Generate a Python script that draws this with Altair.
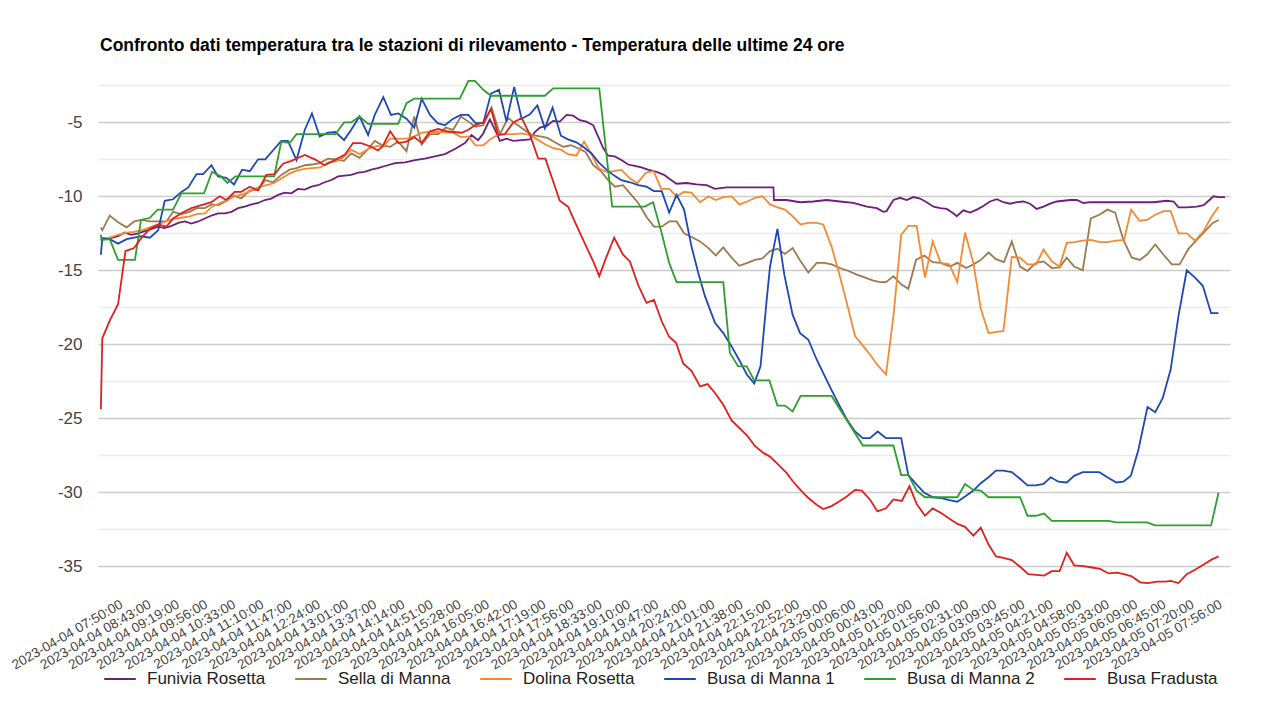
import altair as alt
import pandas as pd

TITLE = "Confronto dati temperatura tra le stazioni di rilevamento - Temperatura delle ultime 24 ore"

labels = [
    "2023-04-04 07:50:00", "2023-04-04 08:43:00", "2023-04-04 09:19:00", "2023-04-04 09:56:00",
    "2023-04-04 10:33:00", "2023-04-04 11:10:00", "2023-04-04 11:47:00", "2023-04-04 12:24:00",
    "2023-04-04 13:01:00", "2023-04-04 13:37:00", "2023-04-04 14:14:00", "2023-04-04 14:51:00",
    "2023-04-04 15:28:00", "2023-04-04 16:05:00", "2023-04-04 16:42:00", "2023-04-04 17:19:00",
    "2023-04-04 17:56:00", "2023-04-04 18:33:00", "2023-04-04 19:10:00", "2023-04-04 19:47:00",
    "2023-04-04 20:24:00", "2023-04-04 21:01:00", "2023-04-04 21:38:00", "2023-04-04 22:15:00",
    "2023-04-04 22:52:00", "2023-04-04 23:29:00", "2023-04-05 00:06:00", "2023-04-05 00:43:00",
    "2023-04-05 01:20:00", "2023-04-05 01:56:00", "2023-04-05 02:31:00", "2023-04-05 03:09:00",
    "2023-04-05 03:45:00", "2023-04-05 04:21:00", "2023-04-05 04:58:00", "2023-04-05 05:33:00",
    "2023-04-05 06:09:00", "2023-04-05 06:45:00", "2023-04-05 07:20:00", "2023-04-05 07:56:00",
]

series_names = ["Funivia Rosetta", "Sella di Manna", "Dolina Rosetta",
                "Busa di Manna 1", "Busa di Manna 2", "Busa Fradusta"]
series_colors = ["#6d1f7a", "#9c7a4f", "#f58a33", "#1f47b8", "#2e9e2e", "#e0201f"]

# (position along the category axis, temperature °C)
funivia_rosetta = [
    (0, -12.85), (0.31, -12.85), (0.6, -12.7), (0.84, -12.45), (1.07, -12.6), (1.3, -12.5),
    (1.53, -12.35), (1.77, -12.2), (2.0, -12.05), (2.23, -12.15), (2.47, -12.0), (2.7, -11.8),
    (2.93, -11.7), (3.16, -11.85), (3.4, -11.7), (3.63, -11.5), (3.86, -11.3), (4.09, -11.15),
    (4.33, -11.15), (4.56, -11.05), (4.79, -10.8), (5.02, -10.7), (5.26, -10.55), (5.49, -10.45),
    (5.72, -10.25), (5.95, -10.15), (6.19, -9.9), (6.42, -9.75), (6.65, -9.8), (6.88, -9.5),
    (7.12, -9.55), (7.35, -9.35), (7.58, -9.25), (7.81, -9.05), (8.05, -8.9), (8.28, -8.65),
    (8.51, -8.6), (8.74, -8.55), (8.98, -8.4), (9.21, -8.35), (9.44, -8.2), (9.67, -8.1),
    (9.92, -7.95), (10.27, -7.75), (10.62, -7.7), (10.97, -7.55), (11.31, -7.45), (11.66, -7.3),
    (12.01, -7.15), (12.36, -6.8), (12.71, -6.4), (12.94, -5.85), (13.17, -6.2), (13.35, -5.75),
    (13.58, -4.8), (13.76, -5.5), (13.93, -6.25), (14.16, -6.1), (14.4, -6.25), (14.69, -6.2),
    (14.98, -6.15), (15.15, -5.65), (15.33, -5.35), (15.56, -5.25), (15.79, -4.9), (16.02, -4.95),
    (16.26, -4.5), (16.49, -4.55), (16.72, -4.85), (16.95, -4.95), (17.19, -5.2), (17.36, -5.95),
    (17.53, -6.7), (17.71, -7.25), (17.94, -7.3), (18.17, -7.55), (18.41, -7.85), (18.64, -7.95),
    (18.87, -8.05), (19.1, -8.2), (19.4, -8.35), (19.66, -8.55), (19.87, -8.85), (20.1, -9.15),
    (20.45, -9.1), (20.8, -9.2), (21.15, -9.25), (21.44, -9.5), (21.85, -9.4), (22.31, -9.4),
    (22.89, -9.4), (23.48, -9.4), (23.5, -10.25), (23.94, -10.25), (24.41, -10.4), (24.87, -10.35),
    (25.34, -10.25), (25.8, -10.35), (26.27, -10.45), (26.74, -10.7), (27.09, -10.8), (27.32, -11.05),
    (27.43, -11.0), (27.67, -10.25), (27.9, -10.1), (28.13, -10.25), (28.37, -10.05), (28.6, -10.15),
    (28.83, -10.4), (29.07, -10.7), (29.3, -10.8), (29.53, -10.85), (29.76, -11.15), (29.88, -11.35),
    (30.11, -10.95), (30.35, -11.1), (30.58, -10.9), (30.81, -10.65), (31.04, -10.35), (31.28, -10.2),
    (31.51, -10.4), (31.74, -10.5), (31.98, -10.4), (32.21, -10.35), (32.44, -10.5), (32.67, -10.85),
    (32.91, -10.7), (33.14, -10.5), (33.37, -10.35), (33.61, -10.3), (33.84, -10.25), (34.07, -10.25),
    (34.3, -10.45), (34.54, -10.4), (35.12, -10.4), (35.82, -10.4), (36.75, -10.4), (37.21, -10.3),
    (37.45, -10.35), (37.62, -10.75), (37.91, -10.75), (38.26, -10.7), (38.5, -10.6), (38.73, -10.2),
    (38.84, -10.0), (39.02, -10.05), (39.25, -10.05),
]

sella_di_manna = [
    (0, -12.1), (0.05, -12.3), (0.31, -11.3), (0.6, -11.75), (0.9, -12.1), (1.16, -11.7),
    (1.42, -11.6), (1.71, -11.7), (2.0, -11.7), (2.29, -11.7), (2.52, -11.05), (2.81, -11.2),
    (3.1, -11.05), (3.34, -10.8), (3.63, -10.8), (3.86, -10.55), (4.12, -10.6), (4.38, -10.3),
    (4.65, -9.95), (4.9, -10.15), (5.2, -9.6), (5.49, -9.55), (5.74, -8.9), (6.01, -9.05),
    (6.3, -8.55), (6.59, -8.2), (6.83, -8.1), (7.12, -7.9), (7.37, -7.85), (7.64, -7.75),
    (7.93, -7.45), (8.19, -7.5), (8.49, -7.6), (8.74, -7.1), (9.03, -7.4), (9.33, -6.8),
    (9.56, -6.25), (9.83, -6.55), (10.1, -6.65), (10.38, -6.3), (10.67, -6.95), (10.94, -4.6),
    (11.2, -6.5), (11.49, -5.8), (11.78, -5.8), (12.04, -5.35), (12.3, -5.5), (12.57, -4.6),
    (12.83, -4.95), (13.08, -5.3), (13.35, -5.2), (13.64, -4.0), (13.93, -5.8), (14.22, -4.7),
    (14.45, -5.05), (14.74, -5.45), (15.04, -5.85), (15.33, -5.95), (15.59, -6.05), (15.85, -6.35),
    (16.14, -6.65), (16.41, -6.55), (16.66, -6.75), (16.92, -7.0), (17.19, -7.9), (17.48, -8.35),
    (17.71, -8.9), (17.95, -9.35), (18.23, -9.25), (18.52, -9.9), (18.76, -10.45), (19.05, -11.4),
    (19.31, -12.05), (19.58, -12.05), (19.84, -11.7), (20.1, -11.7), (20.36, -12.5), (20.62, -12.75),
    (20.92, -13.05), (21.21, -13.5), (21.47, -14.0), (21.73, -13.45), (22.02, -14.15), (22.29, -14.7),
    (22.57, -14.5), (22.84, -14.3), (23.1, -14.2), (23.36, -13.7), (23.62, -13.55), (23.88, -13.9),
    (24.15, -13.5), (24.43, -14.4), (24.7, -15.15), (24.99, -14.5), (25.26, -14.5), (25.51, -14.6),
    (25.8, -14.85), (26.1, -15.05), (26.39, -15.3), (26.68, -15.5), (26.97, -15.7), (27.2, -15.8),
    (27.41, -15.8), (27.67, -15.4), (27.94, -15.95), (28.19, -16.25), (28.46, -14.3), (28.75, -14.0),
    (29.04, -14.45), (29.32, -14.5), (29.65, -14.75), (29.9, -14.5), (30.21, -14.85), (30.46, -14.6),
    (30.72, -14.3), (30.99, -13.8), (31.25, -14.25), (31.53, -14.45), (31.8, -13.05), (32.09, -14.75),
    (32.35, -15.05), (32.65, -14.5), (32.91, -14.4), (33.2, -14.85), (33.47, -14.8), (33.72, -14.15),
    (33.98, -14.75), (34.28, -15.0), (34.56, -11.5), (34.86, -11.25), (35.14, -10.9), (35.41, -11.1),
    (35.7, -12.95), (35.99, -14.15), (36.28, -14.3), (36.54, -13.9), (36.81, -13.25), (37.1, -13.95),
    (37.39, -14.6), (37.66, -14.6), (37.97, -13.55), (38.26, -12.95), (38.55, -12.35), (38.82, -11.8),
    (39.02, -11.6),
]

dolina_rosetta = [
    (0, -12.85), (0.31, -12.8), (0.6, -12.6), (0.9, -12.45), (1.16, -12.4), (1.42, -12.3),
    (1.71, -12.1), (2.0, -11.9), (2.26, -11.7), (2.52, -11.55), (2.81, -11.45), (3.1, -11.35),
    (3.34, -11.2), (3.63, -11.15), (3.88, -10.7), (4.15, -10.45), (4.42, -10.25), (4.67, -10.0),
    (4.97, -9.85), (5.23, -9.65), (5.49, -9.4), (5.78, -9.25), (6.05, -9.1), (6.3, -8.8),
    (6.59, -8.45), (6.86, -8.25), (7.12, -8.15), (7.37, -8.1), (7.67, -8.05), (7.93, -7.7),
    (8.19, -7.65), (8.45, -7.4), (8.74, -6.85), (9.03, -7.15), (9.33, -6.8), (9.62, -6.6),
    (9.88, -6.6), (10.1, -6.1), (10.38, -6.1), (10.67, -6.1), (10.94, -5.95), (11.2, -5.7),
    (11.49, -5.65), (11.76, -5.65), (12.01, -5.7), (12.3, -5.7), (12.57, -6.0), (12.83, -5.95),
    (13.08, -6.55), (13.35, -6.55), (13.62, -6.1), (13.9, -5.8), (14.16, -5.8), (14.43, -5.8),
    (14.69, -5.75), (14.98, -5.85), (15.27, -6.2), (15.52, -6.5), (15.79, -6.75), (16.06, -6.85),
    (16.31, -7.15), (16.6, -7.25), (16.87, -6.3), (17.13, -7.15), (17.38, -8.1), (17.65, -8.35),
    (17.92, -8.3), (18.17, -8.2), (18.47, -8.8), (18.73, -9.1), (19.03, -8.4), (19.3, -8.3),
    (19.56, -9.5), (19.84, -9.5), (20.1, -10.0), (20.36, -9.7), (20.62, -9.75), (20.92, -10.4),
    (21.21, -10.0), (21.47, -10.25), (21.73, -10.05), (22.02, -10.0), (22.29, -10.55), (22.57, -10.35),
    (22.84, -10.1), (23.1, -10.0), (23.36, -10.55), (23.62, -10.75), (23.88, -10.9), (24.15, -11.35),
    (24.43, -11.9), (24.7, -11.8), (24.97, -11.8), (25.22, -11.9), (25.51, -13.4), (25.8, -15.4),
    (26.04, -17.2), (26.33, -19.45), (26.6, -20.1), (26.85, -20.7), (27.11, -21.4), (27.41, -22.05),
    (27.67, -18.1), (27.94, -12.6), (28.19, -12.0), (28.48, -12.0), (28.77, -15.5), (29.04, -13.05),
    (29.32, -14.5), (29.62, -14.6), (29.9, -15.8), (30.17, -12.45), (30.46, -14.5), (30.72, -17.6),
    (30.99, -19.25), (31.51, -19.1), (31.8, -14.1), (32.09, -14.15), (32.35, -14.6), (32.65, -14.6),
    (32.91, -13.6), (33.2, -14.4), (33.47, -14.75), (33.72, -13.15), (33.98, -13.1), (34.28, -13.0),
    (34.56, -12.95), (34.89, -13.1), (35.14, -13.1), (35.45, -13.0), (35.72, -12.95), (35.97, -10.9),
    (36.26, -11.65), (36.52, -11.6), (36.81, -11.25), (37.1, -11.0), (37.35, -11.0), (37.62, -12.5),
    (37.91, -12.5), (38.2, -13.0), (38.5, -12.35), (38.75, -11.45), (39.02, -10.7),
]

busa_di_manna_1 = [
    (0, -13.95), (0.05, -12.85), (0.31, -12.9), (0.6, -13.2), (0.9, -12.9), (1.16, -12.8),
    (1.42, -12.7), (1.71, -12.8), (2.0, -12.3), (2.23, -10.3), (2.52, -10.2), (2.81, -9.7),
    (3.05, -9.4), (3.34, -8.5), (3.57, -8.5), (3.86, -7.9), (4.09, -8.65), (4.38, -8.75),
    (4.65, -9.2), (4.93, -8.2), (5.2, -8.3), (5.49, -7.5), (5.74, -7.5), (6.03, -6.85),
    (6.3, -6.25), (6.53, -6.25), (6.83, -7.55), (7.12, -5.5), (7.37, -4.4), (7.64, -5.95),
    (7.93, -5.7), (8.19, -5.65), (8.49, -6.2), (8.74, -5.5), (9.03, -4.6), (9.33, -5.85),
    (9.56, -4.5), (9.86, -3.3), (10.13, -4.5), (10.38, -4.4), (10.67, -4.75), (10.94, -5.35),
    (11.2, -3.4), (11.49, -4.5), (11.76, -5.05), (12.01, -5.2), (12.3, -4.75), (12.57, -4.5),
    (12.83, -4.5), (13.08, -5.05), (13.35, -5.05), (13.62, -3.05), (13.9, -2.8), (14.16, -4.95),
    (14.43, -2.6), (14.69, -4.75), (14.98, -4.45), (15.24, -3.85), (15.5, -5.4), (15.77, -4.0),
    (16.06, -5.9), (16.31, -6.15), (16.6, -6.35), (16.87, -6.7), (17.13, -7.1), (17.38, -7.7),
    (17.65, -8.2), (17.92, -8.6), (18.17, -8.9), (18.47, -9.05), (18.76, -9.25), (19.05, -9.35),
    (19.31, -9.65), (19.58, -9.65), (19.84, -11.1), (20.1, -9.9), (20.36, -10.9), (20.62, -13.4),
    (20.86, -15.2), (21.09, -16.75), (21.44, -18.55), (21.73, -19.25), (22.02, -20.15), (22.31, -21.15),
    (22.55, -22.05), (22.81, -22.65), (23.03, -21.5), (23.24, -17.1), (23.36, -14.75), (23.62, -12.2),
    (23.86, -15.3), (24.15, -18.0), (24.41, -19.25), (24.7, -19.7), (24.97, -20.95), (25.22, -21.95),
    (25.51, -23.1), (25.8, -24.2), (26.06, -25.15), (26.33, -25.9), (26.6, -26.35), (26.85, -26.35),
    (27.12, -25.9), (27.41, -26.35), (27.67, -26.35), (27.94, -26.35), (28.19, -28.85), (28.48, -29.5),
    (28.75, -30.05), (29.05, -30.35), (29.32, -30.4), (29.62, -30.55), (29.9, -30.65), (30.17, -30.3),
    (30.46, -29.9), (30.72, -29.4), (30.99, -29.0), (31.25, -28.55), (31.51, -28.55), (31.8, -28.65),
    (32.09, -29.1), (32.35, -29.55), (32.65, -29.55), (32.91, -29.45), (33.16, -29.0), (33.43, -29.3),
    (33.72, -29.35), (33.98, -28.9), (34.28, -28.65), (34.56, -28.65), (34.86, -28.65), (35.14, -29.0),
    (35.45, -29.35), (35.7, -29.3), (35.96, -28.9), (36.22, -27.15), (36.54, -24.25), (36.81, -24.6),
    (37.07, -23.65), (37.35, -21.7), (37.62, -18.1), (37.91, -15.0), (38.2, -15.5), (38.47, -16.05),
    (38.76, -17.9), (39.02, -17.9),
]

busa_di_manna_2 = [
    (0, -12.6), (0.02, -12.95), (0.31, -12.9), (0.6, -14.3), (0.9, -14.3), (1.19, -14.3),
    (1.4, -11.6), (1.71, -11.45), (1.98, -10.9), (2.26, -10.9), (2.52, -10.9), (2.81, -9.8),
    (3.1, -9.8), (3.34, -9.8), (3.6, -9.8), (3.88, -8.35), (4.19, -8.65), (4.42, -9.1),
    (4.7, -8.65), (4.97, -8.65), (5.26, -8.65), (5.51, -8.65), (5.78, -8.65), (6.05, -8.65),
    (6.3, -6.3), (6.59, -6.4), (6.83, -5.8), (7.12, -5.8), (7.37, -5.8), (7.64, -5.8),
    (7.93, -5.8), (8.19, -5.8), (8.49, -5.0), (8.74, -5.0), (9.03, -4.6), (9.33, -5.1),
    (9.62, -5.1), (9.9, -5.1), (10.38, -5.1), (10.67, -3.7), (10.94, -3.4), (11.49, -3.4),
    (12.01, -3.4), (12.53, -3.4), (12.83, -2.2), (13.06, -2.2), (13.35, -2.8), (13.62, -3.2),
    (15.5, -3.2), (15.79, -2.7), (17.4, -2.7), (17.85, -10.7), (18.99, -10.7), (19.28, -10.4),
    (19.58, -12.5), (19.84, -14.5), (20.1, -15.8), (21.73, -15.8), (21.96, -20.6), (22.25, -21.5),
    (22.55, -21.5), (22.81, -22.45), (23.34, -22.45), (23.62, -24.15), (23.88, -24.15), (24.15, -24.55),
    (24.43, -23.5), (25.51, -23.5), (26.6, -26.85), (27.67, -26.85), (27.94, -28.85), (28.19, -28.85),
    (28.48, -29.9), (28.77, -30.35), (29.9, -30.35), (30.17, -29.45), (30.46, -29.85), (30.72, -29.9),
    (30.99, -30.35), (32.09, -30.35), (32.35, -31.6), (32.65, -31.6), (32.93, -31.45), (33.2, -31.95),
    (35.18, -31.95), (35.45, -32.05), (36.52, -32.05), (36.81, -32.25), (38.76, -32.25), (39.02, -30.05),
]

busa_fradusta = [
    (0, -24.4), (0.05, -19.6), (0.31, -18.4), (0.6, -17.3), (0.86, -13.7), (1.16, -13.5),
    (1.42, -12.8), (1.71, -12.2), (2.0, -11.9), (2.29, -12.05), (2.52, -11.5), (2.81, -11.15),
    (3.16, -10.8), (3.51, -10.6), (3.86, -10.4), (4.15, -10.0), (4.38, -10.25), (4.67, -9.7),
    (4.9, -9.7), (5.2, -9.35), (5.49, -9.6), (5.78, -8.55), (6.07, -8.5), (6.36, -7.8),
    (6.65, -7.6), (7.12, -7.2), (7.47, -7.5), (7.81, -7.9), (8.16, -7.55), (8.51, -7.2),
    (8.8, -6.4), (9.09, -6.4), (9.44, -6.65), (9.67, -6.9), (9.83, -6.65), (10.1, -5.6),
    (10.38, -6.4), (10.67, -6.3), (10.94, -6.0), (11.2, -6.4), (11.49, -5.6), (11.78, -5.45),
    (12.07, -5.6), (12.59, -5.7), (12.83, -5.5), (13.06, -5.2), (13.35, -5.0), (13.62, -4.1),
    (13.87, -5.85), (14.1, -5.8), (14.4, -5.0), (14.69, -4.7), (14.98, -5.85), (15.27, -7.45),
    (15.52, -7.45), (16.02, -10.3), (16.31, -10.7), (16.6, -11.95), (16.9, -13.2), (17.19, -14.4),
    (17.4, -15.4), (17.65, -14.1), (17.92, -12.8), (18.23, -13.95), (18.47, -14.4), (18.76, -16.0),
    (19.05, -17.2), (19.31, -17.0), (19.58, -18.45), (19.84, -19.5), (20.08, -19.9), (20.33, -21.3),
    (20.62, -21.8), (20.92, -22.85), (21.18, -22.7), (21.44, -23.3), (21.73, -24.1), (22.02, -25.15),
    (22.31, -25.7), (22.57, -26.2), (22.84, -26.9), (23.13, -27.35), (23.36, -27.6), (23.65, -28.15),
    (23.94, -28.7), (24.17, -29.3), (24.47, -29.95), (24.7, -30.4), (24.99, -30.85), (25.22, -31.15),
    (25.51, -30.95), (25.8, -30.6), (26.04, -30.3), (26.33, -29.85), (26.56, -29.9), (26.85, -30.5),
    (27.11, -31.3), (27.41, -31.1), (27.67, -30.5), (27.96, -30.6), (28.23, -29.6), (28.48, -30.8),
    (28.77, -31.6), (29.04, -31.1), (29.32, -31.4), (29.59, -31.75), (29.9, -32.15), (30.17, -32.35),
    (30.46, -32.95), (30.72, -32.4), (30.99, -33.55), (31.25, -34.35), (31.51, -34.45), (31.8, -34.6),
    (32.09, -35.05), (32.38, -35.55), (32.67, -35.6), (32.93, -35.65), (33.2, -35.35), (33.47, -35.35),
    (33.72, -34.1), (33.98, -34.95), (34.3, -35.0), (34.6, -35.1), (34.89, -35.2), (35.18, -35.5),
    (35.47, -35.45), (35.72, -35.55), (35.99, -35.7), (36.28, -36.1), (36.55, -36.15), (36.87, -36.05),
    (37.16, -36.05), (37.35, -36.0), (37.62, -36.15), (37.91, -35.55), (38.2, -35.25), (38.5, -34.9),
    (38.79, -34.55), (39.02, -34.35),
]

y_ticks = [-35, -32.5, -30, -27.5, -25, -22.5, -20, -17.5, -15, -12.5, -10, -7.5, -5, -2.5]
label_step = 0.984  # label spacing on the category axis

all_series = [funivia_rosetta, sella_di_manna, dolina_rosetta,
              busa_di_manna_1, busa_di_manna_2, busa_fradusta]

rows = []
for name, pts in zip(series_names, all_series):
    for i, (p, t) in enumerate(pts):
        rows.append({"serie": name, "pos": p, "temp": t, "ord": i})
df = pd.DataFrame(rows)

label_pos = [round(i * label_step, 4) for i in range(len(labels))]
label_expr = "[" + ",".join("'" + s + "'" for s in labels) + "][round(datum.value / %s)]" % label_step

FONT = "Liberation Sans"

chart = alt.Chart(df).mark_line(strokeWidth=1.8, clip=False).encode(
    x=alt.X("pos:Q",
            scale=alt.Scale(domain=[-0.1, 39.42], nice=False, zero=False),
            axis=alt.Axis(values=label_pos, labelExpr=label_expr, labelAngle=330,
                          labelAlign="right", labelBaseline="top", labelOffset=17,
                          labelPadding=-6, ticks=False, domain=False, grid=False, title=None,
                          labelFontSize=13.5, labelFont=FONT, labelColor="#444",
                          labelOverlap=False, labelBound=False, labelFlush=False)),
    y=alt.Y("temp:Q",
            scale=alt.Scale(domain=[-37.5, -2], nice=False, zero=False),
            axis=alt.Axis(values=y_ticks,
                          labelExpr="datum.value % 5 == 0 ? '' + datum.value : ''",
                          ticks=False, domain=False, title=None, labelPadding=16,
                          labelFontSize=17, labelFont=FONT, labelColor="#444",
                          gridColor={"condition": {"test": "datum.value % 5 == 0", "value": "#cccccc"},
                                     "value": "#ebebeb"},
                          gridWidth=1.5)),
    color=alt.Color("serie:N",
                    scale=alt.Scale(domain=series_names, range=series_colors),
                    sort=series_names,
                    legend=alt.Legend(orient="none", legendX=5, legendY=584, direction="horizontal",
                                      columns=6, title=None, symbolType="stroke", symbolSize=1000,
                                      symbolStrokeWidth=2, labelFontSize=17, labelFont=FONT,
                                      labelColor="#222", labelOffset=10, columnPadding=25, padding=0)),
    order=alt.Order("ord:Q"),
).properties(
    width=1132, height=525,
    title=alt.TitleParams(TITLE, anchor="start", fontSize=17.5, font=FONT, fontWeight="bold",
                          color="#000", offset=9, dx=2, frame="group", baseline="alphabetic"),
    autosize=alt.AutoSizeParams(type="none"),
    padding={"left": 90, "top": 70, "right": 40, "bottom": 96},
).configure(background="white", view=alt.ViewConfig(strokeWidth=0, stroke="transparent"))

chart.save("out.html", embed_options={"renderer": "svg", "actions": False})
